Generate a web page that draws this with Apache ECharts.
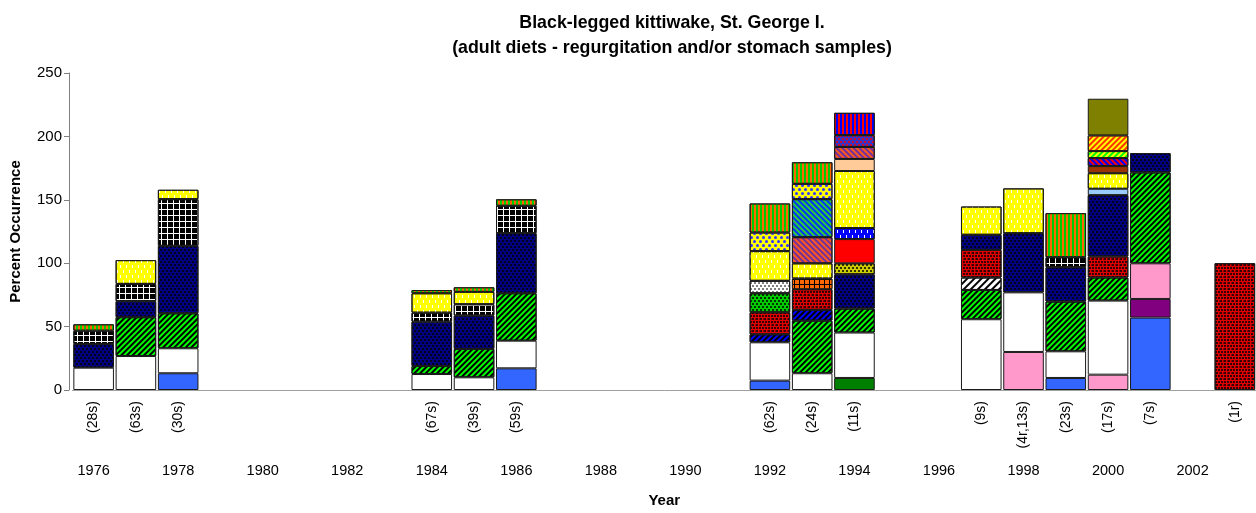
<!DOCTYPE html>
<html><head><meta charset="utf-8">
<script src="https://cdn.jsdelivr.net/npm/echarts@6/dist/echarts.min.js"></script>
<style>html,body{margin:0;padding:0;background:#fff}#c{width:1256px;height:513px}</style>
</head><body><div id="c"></div>
<script>
const _ = null;
// Category axis (one category per year)
const categories = ['1976','1977','1978','1979','1980','1981','1982','1983','1984','1985','1986','1987','1988','1989','1990','1991','1992','1993','1994','1995','1996','1997','1998','1999','2000','2001','2002','2003'];
// Sampled years and their sample-size labels
const sampleYears  = ['1976','1977','1978','1984','1985','1986','1992','1993','1994','1997','1998','1999','2000','2001','2003'];
const sampleLabels = ['(28s)','(63s)','(30s)','(67s)','(39s)','(59s)','(62s)','(24s)','(11s)','(9s)','(4r,13s)','(23s)','(17s)','(7s)','(1r)'];
// Percent occurrence per prey type, aligned with sampleYears
//                    1976 1977 1978 1984 1985 1986 1992 1993 1994 1997 1998 1999 2000 2001 2003
const blueSolid     = [_,   _,   13.2,_,   _,   17.1,7.4, _,   _,   _,   _,   9.5, _,   57.1,_  ];
const darkGreen     = [_,   _,   _,   _,   _,   _,   _,   _,   9.5, _,   _,   _,   _,   _,   _  ];
const purple        = [_,   _,   _,   _,   _,   _,   _,   _,   _,   _,   _,   _,   _,   14.7,_  ];
const pink          = [_,   _,   _,   _,   _,   _,   _,   _,   _,   _,   30,  _,   12.1,28.1,_  ];
const white         = [17.6,26.8,19.7,12.6,10,  21.8,30.2,13.2,35.8,55.8,47,  21,  58.4,_,   _  ];
const greenHatch    = [_,   30.6,27.6,6.3, 22.4,37.4,_,   41.5,18.9,23.1,_,   39.2,18.2,71.7,_  ];
const whiteHatch    = [_,   _,   _,   _,   _,   _,   _,   _,   _,   9.8, _,   _,   _,   _,   _  ];
const blueHatch     = [_,   _,   _,   _,   _,   _,   6.3, 8.5, _,   _,   _,   _,   _,   _,   _  ];
const redDots       = [_,   _,   _,   _,   _,   _,   17.4,16.3,_,   21.8,_,   _,   16.6,_,   100];
const greenDots     = [_,   _,   _,   _,   _,   _,   15,  _,   _,   _,   _,   _,   _,   _,   _  ];
const grayDots      = [_,   _,   _,   _,   _,   _,   9.8, _,   _,   _,   _,   _,   _,   _,   _  ];
const orangeGrid    = [_,   _,   _,   _,   _,   _,   _,   8.4, _,   _,   _,   _,   _,   _,   _  ];
const navyDots      = [18.7,12.6,53.2,35,  26.3,47.4,_,   _,   27,  11.9,46.7,27.1,48.4,15.2,_  ];
const oliveDots     = [_,   _,   _,   _,   _,   _,   _,   _,   8.7, _,   _,   _,   _,   _,   _  ];
const redSolid      = [_,   _,   _,   _,   _,   _,   _,   _,   19.1,_,   _,   _,   _,   _,   _  ];
const blueDashes    = [_,   _,   _,   _,   _,   _,   _,   _,   8.7, _,   _,   _,   _,   _,   _  ];
const lightBlue     = [_,   _,   _,   _,   _,   _,   _,   _,   _,   _,   _,   _,   5,   _,   _  ];
const blackGrid     = [10.5,13.7,36.8,7.1, 8.9, 21.6,_,   _,   _,   _,   _,   7.9, _,   _,   _  ];
const yellowDashes  = [_,   18.7,7.4, 15.3,9.8, _,   23.4,12,  45,  22.3,35.3,_,   12.3,_,   _  ];
const brown         = [_,   _,   _,   _,   _,   _,   _,   _,   _,   _,   _,   _,   5.6, _,   _  ];
const peach         = [_,   _,   _,   _,   _,   _,   _,   _,   9.5, _,   _,   _,   _,   _,   _  ];
const orangePurple  = [_,   _,   _,   _,   _,   _,   _,   20.6,9.5, _,   _,   _,   _,   _,   _  ];
const greenBlue     = [_,   _,   _,   _,   _,   _,   _,   30,  _,   _,   _,   _,   _,   _,   _  ];
const checker       = [_,   _,   _,   _,   _,   _,   14.7,12.1,_,   _,   _,   _,   _,   _,   _  ];
const blueRedDots   = [_,   _,   _,   _,   _,   _,   _,   _,   9.3, _,   _,   _,   _,   _,   _  ];
const redBlueStripe = [_,   _,   _,   _,   _,   _,   _,   _,   17.6,_,   _,   _,   _,   _,   _  ];
const redBlueHatch  = [_,   _,   _,   _,   _,   _,   _,   _,   _,   _,   _,   _,   6.3, _,   _  ];
const greenYellow   = [_,   _,   _,   _,   _,   _,   _,   _,   _,   _,   _,   _,   5.5, _,   _  ];
const redYellow     = [_,   _,   _,   _,   _,   _,   _,   _,   _,   _,   _,   _,   12.4,_,   _  ];
const olive         = [_,   _,   _,   _,   _,   _,   _,   _,   _,   _,   _,   _,   28.9,_,   _  ];
const orangeGreen   = [5,   _,   _,   2.5, 3.6, 5.1, 22.9,17,  _,   _,   _,   34.8,_,   _,   _  ];

const FONT = '"Liberation Sans", Arial, sans-serif';
const hatch = (c, rot, gap) => ({color: c, symbol: 'rect', symbolSize: 1, dashArrayX: [1, 0], dashArrayY: [2, gap || 2], rotation: rot});
const dots = (c, n) => ({color: c, symbol: 'circle', symbolSize: 1, dashArrayX: [[n||2, n||2], [0, n||2, n||2, 0]], dashArrayY: [n||2, 1]});
const denseDots = (c) => ({color: c, symbol: 'circle', symbolSize: 1, dashArrayX: [[2, 1], [0, 1.5, 2, -0.5 + 0.5 + 1 - 1 + 0]], dashArrayY: [2, 1]});
const vstripes = (c) => ({color: c, symbol: 'rect', symbolSize: 1, dashArrayX: [2, 2], dashArrayY: [1, 0]});
const gridPat = (c, n) => ({color: c, symbol: 'rect', symbolSize: 1, dashArrayX: [n, 1], dashArrayY: [n, 1]});
const dashes = (c) => ({color: c, symbol: 'rect', symbolSize: 1, dashArrayX: [[1, 5], [0, 3, 1, 2]], dashArrayY: [3, 2]});
const UP = -Math.PI / 4, DOWN = Math.PI / 4;
const redDotDecal = {color: '#000', symbol: 'circle', symbolSize: 1, dashArrayX: [[2, 1], [1.5, 1, 0.5, 0]], dashArrayY: [2, 1]};

const seriesDefs = [
  ['Blue', blueSolid, {color: '#3366FF'}],
  ['Dark green', darkGreen, {color: '#008000'}],
  ['Purple', purple, {color: '#800080'}],
  ['Pink', pink, {color: '#FF99CC'}],
  ['White', white, {color: '#FFFFFF'}],
  ['Green hatch', greenHatch, {color: '#00FF00', decal: hatch('#000', UP)}],
  ['White hatch', whiteHatch, {color: '#FFFFFF', decal: hatch('#000', UP, 3)}],
  ['Blue hatch', blueHatch, {color: '#0000FF', decal: hatch('#000', UP)}],
  ['Red dots', redDots, {color: '#E00000', decal: redDotDecal}],
  ['Green dots', greenDots, {color: '#00CC00', decal: dots('#000')}],
  ['Gray dots', grayDots, {color: '#FFFFFF', decal: dots('#555')}],
  ['Orange grid', orangeGrid, {color: '#000000', decal: gridPat('#FF6600', 4)}],
  ['Navy dots', navyDots, {color: '#000080', decal: dots('#000')}],
  ['Olive dots', oliveDots, {color: '#CCCC00', decal: dots('#000')}],
  ['Red', redSolid, {color: '#FF0000'}],
  ['Blue dashes', blueDashes, {color: '#0000FF', decal: dashes('#FFF')}],
  ['Light blue', lightBlue, {color: '#99CCFF'}],
  ['Black grid', blackGrid, {color: '#FFFFFF', decal: gridPat('#000', 5)}],
  ['Yellow dashes', yellowDashes, {color: '#FFFF00', decal: dashes('#FFF')}],
  ['Brown', brown, {color: '#993300'}],
  ['Peach', peach, {color: '#FFCC99'}],
  ['Orange/purple hatch', orangePurple, {color: '#FF5A1E', decal: hatch('#7030A0', DOWN)}],
  ['Green/blue hatch', greenBlue, {color: '#33CC33', decal: hatch('#0033FF', DOWN)}],
  ['Yellow/blue checker', checker, {color: '#FFFF00', decal: dots('#3333FF', 3)}],
  ['Blue/red dots', blueRedDots, {color: '#3333CC', decal: dots('#FF0000')}],
  ['Red/blue stripes', redBlueStripe, {color: '#FF0000', decal: vstripes('#0000FF')}],
  ['Red/blue hatch', redBlueHatch, {color: '#FF0000', decal: hatch('#0000FF', DOWN)}],
  ['Green/yellow hatch', greenYellow, {color: '#00FF00', decal: hatch('#FFFF00', UP)}],
  ['Red/yellow hatch', redYellow, {color: '#FFFF00', decal: hatch('#FF3300', UP)}],
  ['Olive', olive, {color: '#808000'}],
  ['Orange/green stripes', orangeGreen, {color: '#FF6600', decal: vstripes('#00CC00')}]
];

const full = arr => categories.map(y => { const i = sampleYears.indexOf(y); return i < 0 ? null : arr[i]; });

const chart = echarts.init(document.getElementById('c'), null, {renderer: 'canvas'});
chart.setOption({
  animation: false,
  backgroundColor: '#fff',
  textStyle: {fontFamily: FONT},
  title: {
    text: 'Black-legged kittiwake, St. George I.\n(adult diets - regurgitation and/or stomach samples)',
    left: 667, top: 6, textAlign: 'center',
    textStyle: {fontFamily: FONT, fontSize: 17.8, fontWeight: 'bold', color: '#000', lineHeight: 25}
  },
  grid: {left: 69.3, top: 73, width: 1187.2, height: 317, containLabel: false},
  xAxis: [{
    type: 'category', data: categories, position: 'bottom',
    axisLine: {lineStyle: {color: '#A0A0A0', width: 1}},
    axisTick: {show: false},
    axisLabel: {
      interval: 0, rotate: 90, margin: 11, fontSize: 14, color: '#000', fontFamily: FONT,
      formatter: v => { const i = sampleYears.indexOf(v); return i < 0 ? '' : sampleLabels[i]; }
    }
  }, {
    type: 'category', data: categories, position: 'bottom',
    axisLine: {show: false}, axisTick: {show: false},
    axisLabel: {interval: 1, margin: 73, fontSize: 14.5, color: '#000', fontFamily: FONT},
    name: 'Year', nameLocation: 'middle', nameGap: 103,
    nameTextStyle: {fontSize: 15, fontWeight: 'bold', color: '#000', fontFamily: FONT}
  }],
  yAxis: {
    type: 'value', min: 0, max: 250, interval: 50, offset: 3.5,
    axisLine: {show: true, lineStyle: {color: '#808080'}},
    axisTick: {show: true, length: 5, lineStyle: {color: '#808080'}},
    splitLine: {show: false},
    axisLabel: {fontSize: 15, color: '#000', margin: 7, fontFamily: FONT},
    name: 'Percent Occurrence', nameLocation: 'middle', nameGap: 46,
    nameTextStyle: {fontSize: 15, fontWeight: 'bold', color: '#000', fontFamily: FONT}
  },
  series: seriesDefs.map(([name, arr, st]) => ({
    name, type: 'bar', stack: 'total', xAxisIndex: 0, barCategoryGap: '4%',
    data: full(arr),
    itemStyle: Object.assign({borderColor: '#1a1a1a', borderWidth: 1}, st),
    emphasis: {disabled: true}
  }))
});
</script></body></html>
